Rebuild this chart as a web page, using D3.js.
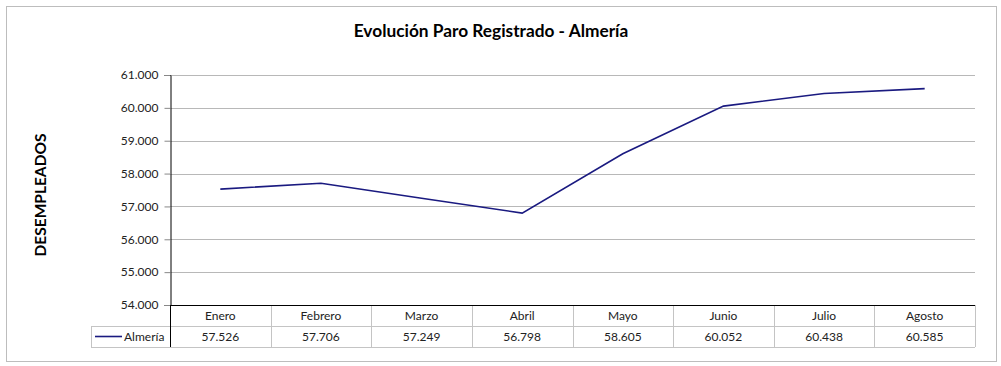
<!DOCTYPE html>
<html><head><meta charset="utf-8">
<script src="https://cdn.jsdelivr.net/npm/d3@7"></script>
<style>body{margin:0;background:#fff}svg{display:block}</style>
</head><body>
<script>
const months = ["Enero","Febrero","Marzo","Abril","Mayo","Junio","Julio","Agosto"];
const almeria = [57526,57706,57249,56798,58605,60052,60438,60585];
const yTicks = [54000,55000,56000,57000,58000,59000,60000,61000];
const seriesName = "Almería";
const title = "Evolución Paro Registrado - Almería";
const yTitle = "DESEMPLEADOS";

const W=1001,H=366;
const font="Lato, 'Open Sans', sans-serif";
const svg=d3.select("body").append("svg").attr("width",W).attr("height",H);
svg.append("rect").attr("x",6.5).attr("y",6.5).attr("width",990).attr("height",355)
  .attr("fill","#fff").attr("stroke","#bdbdbd");

const L=170,R=975,T=75,B=305;
const x=d3.scaleBand().domain(months).range([L,R]);
const y=d3.scaleLinear().domain([54000,61000]).range([B,T]);
const fmt=d=>d3.format(",.0f")(d).replace(/,/g,".");
const fmt3=d=>(d/1000).toFixed(3);

svg.append("text").attr("x",491).attr("y",37).attr("text-anchor","middle")
  .attr("font-family",font).attr("font-weight","bold").attr("font-size",17.3).text(title);

// grid
svg.append("g").selectAll("line").data(yTicks.slice(1)).join("line")
  .attr("x1",L).attr("x2",R).attr("y1",d=>Math.round(y(d))+0.5).attr("y2",d=>Math.round(y(d))+0.5)
  .attr("stroke","#b8b8b8");

// y axis
const ya=svg.append("g").attr("transform",`translate(${L+0.5},0)`)
  .call(d3.axisLeft(y).tickValues(yTicks).tickFormat(fmt3).tickSize(6).tickPadding(6));
ya.select(".domain").attr("stroke","#000");
ya.selectAll(".tick line").attr("stroke","#888");
ya.selectAll("text").attr("font-family",font).attr("font-size",12).attr("fill","#222");

svg.append("text").attr("transform",`translate(46,195) rotate(-90)`)
  .attr("text-anchor","middle").attr("font-family",font).attr("font-weight","bold")
  .attr("font-size",15.5).text(yTitle);

// line
const line=d3.line().x((d,i)=>x(months[i])+x.bandwidth()/2).y(d=>y(d));
svg.append("path").datum(almeria).attr("d",line).attr("fill","none")
  .attr("stroke","#1a1a80").attr("stroke-width",1.6);

// table
const r1=B, r2=326.5, r3=347;
const tg=svg.append("g");
const gray="#c4c4c4";
tg.append("line").attr("x1",91).attr("x2",R).attr("y1",r2).attr("y2",r2).attr("stroke",gray);
tg.append("line").attr("x1",91).attr("x2",R).attr("y1",r3+0.5).attr("y2",r3+0.5).attr("stroke",gray);
tg.append("line").attr("x1",91.5).attr("x2",91.5).attr("y1",r2).attr("y2",r3).attr("stroke",gray);
const bounds=months.map(m=>x(m)).concat([R]);
tg.selectAll("line.v").data(bounds.slice(1)).join("line").attr("class","v")
  .attr("x1",d=>Math.round(d)+0.5).attr("x2",d=>Math.round(d)+0.5).attr("y1",r1).attr("y2",r3).attr("stroke",gray);
tg.append("line").attr("x1",L+0.5).attr("x2",L+0.5).attr("y1",r1).attr("y2",r3).attr("stroke","#000");
tg.selectAll("text.m").data(months).join("text").attr("class","m")
  .attr("x",d=>x(d)+x.bandwidth()/2).attr("y",320).attr("text-anchor","middle")
  .attr("font-family",font).attr("font-size",12).attr("fill","#222").text(d=>d);
tg.selectAll("text.v").data(almeria).join("text").attr("class","v")
  .attr("x",(d,i)=>x(months[i])+x.bandwidth()/2).attr("y",341).attr("text-anchor","middle")
  .attr("font-family",font).attr("font-size",12).attr("fill","#222").text(fmt);
tg.append("line").attr("x1",95).attr("x2",122).attr("y1",336.5).attr("y2",336.5)
  .attr("stroke","#1a1a80").attr("stroke-width",1.6);
tg.append("text").attr("x",124).attr("y",341).attr("font-family",font).attr("font-size",12)
  .attr("fill","#222").text(seriesName);

// bottom axis line
svg.append("line").attr("x1",L).attr("x2",R).attr("y1",B+0.5).attr("y2",B+0.5).attr("stroke","#000");
</script>
</body></html>
